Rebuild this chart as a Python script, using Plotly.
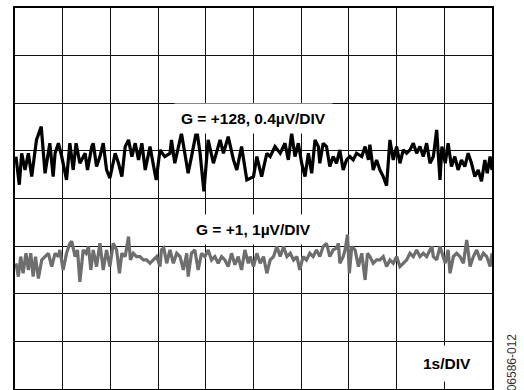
import plotly.graph_objects as go

# Time axis in seconds (1 s/DIV), values in screen divisions (0..8)
t_g128 = [0.02, 0.09, 0.14, 0.21, 0.28, 0.35, 0.45, 0.55, 0.63, 0.73, 0.80, 0.84, 0.91, 0.98,
          1.08, 1.15, 1.22, 1.28, 1.36, 1.47, 1.52, 1.61, 1.64, 1.71, 1.78, 1.85, 1.92, 1.99,
          2.10, 2.17, 2.24, 2.31, 2.38, 2.45, 2.52, 2.59, 2.66, 2.73, 2.83, 2.90, 2.96,
          3.04, 3.14, 3.25, 3.28, 3.35, 3.42, 3.49, 3.56, 3.63, 3.70, 3.77, 3.81, 3.88, 3.96,
          4.05, 4.16, 4.30, 4.37, 4.47, 4.58, 4.65, 4.75, 4.86,
          5.00, 5.07, 5.17, 5.28, 5.35, 5.45, 5.56, 5.66, 5.73, 5.80, 5.87, 5.94,
          6.01, 6.08, 6.15, 6.22, 6.29, 6.36, 6.39, 6.46, 6.53, 6.60, 6.67, 6.74, 6.81, 6.88, 6.95,
          7.02, 7.09, 7.16, 7.27, 7.34, 7.41, 7.44, 7.51, 7.58, 7.65, 7.72, 7.79, 7.86, 7.93,
          8.00, 8.07, 8.14, 8.21, 8.28, 8.35, 8.42, 8.49, 8.56, 8.63, 8.70, 8.77, 8.84, 8.91, 8.95,
          9.02, 9.08, 9.15, 9.22, 9.29, 9.36, 9.43, 9.50, 9.57, 9.64, 9.71, 9.78, 9.85, 9.90, 9.96, 10.0]
v_g128 = [4.88, 4.29, 4.95, 4.60, 4.95, 4.46, 5.23, 5.51, 4.53, 5.16, 4.46, 4.95, 5.16, 4.88,
          4.39, 5.16, 4.60, 5.16, 4.74, 4.95, 4.60, 5.09, 5.16, 4.67, 4.88, 5.16, 4.60, 4.43,
          4.95, 4.74, 4.46, 5.09, 5.23, 4.88, 5.16, 4.81, 5.16, 4.60, 5.09, 4.74, 4.39,
          5.02, 4.88, 4.95, 5.23, 4.74, 5.02, 5.37, 4.95, 4.53, 4.88, 5.30, 5.44, 4.95, 4.15,
          5.23, 4.74, 5.23, 4.95, 5.30, 4.81, 4.60, 5.09, 4.39,
          4.46, 4.88, 4.46, 4.95, 4.88, 5.09, 4.95, 5.16, 4.81, 5.37, 4.88, 5.16,
          4.74, 4.46, 4.95, 4.53, 5.23, 5.09, 4.74, 5.16, 5.09, 4.67, 4.88, 4.74, 5.02, 4.60, 4.81,
          4.88, 4.81, 4.95, 4.88, 5.09, 4.81, 5.13, 4.60, 4.81, 4.60, 4.46, 4.27, 5.23, 4.81,
          5.09, 4.74, 5.02, 4.95, 5.02, 5.16, 4.95, 5.09, 4.88, 5.16, 4.74, 4.88, 5.44, 4.39, 5.09,
          4.74, 5.16, 4.67, 4.88, 4.60, 4.81, 4.67, 4.95, 4.74, 4.46, 4.60, 4.36, 4.81, 4.53, 4.88, 4.60]

t_g1 = [0.02, 0.07, 0.12, 0.17, 0.23, 0.28, 0.33, 0.38, 0.43, 0.49, 0.56, 0.63, 0.70, 0.77, 0.84, 0.91, 0.94,
        1.01, 1.08, 1.15, 1.19, 1.26, 1.31, 1.36, 1.43, 1.49, 1.54, 1.59, 1.64, 1.71, 1.78, 1.85, 1.92, 1.99,
        2.06, 2.13, 2.19, 2.24, 2.31, 2.38, 2.42, 2.48, 2.55, 2.62, 2.69, 2.76, 2.83, 2.90, 2.97,
        3.04, 3.07, 3.12, 3.18, 3.25, 3.32, 3.39, 3.46, 3.53, 3.60, 3.63, 3.70, 3.77, 3.84, 3.91, 3.98,
        4.05, 4.12, 4.19, 4.26, 4.33, 4.40, 4.47, 4.54, 4.61, 4.68, 4.75, 4.82, 4.89,
        4.93, 5.00, 5.07, 5.14, 5.21, 5.28, 5.35, 5.42, 5.49, 5.56, 5.63, 5.70, 5.77, 5.84, 5.91, 5.97,
        6.04, 6.11, 6.18, 6.25, 6.32, 6.39, 6.46, 6.53, 6.60, 6.67, 6.74, 6.78, 6.81, 6.88, 6.92, 6.97,
        7.01, 7.06, 7.13, 7.20, 7.27, 7.34, 7.39, 7.44, 7.51, 7.58, 7.65, 7.72, 7.79, 7.86, 7.93,
        8.00, 8.07, 8.14, 8.21, 8.28, 8.35, 8.42, 8.49, 8.56, 8.63, 8.70, 8.74, 8.77, 8.84, 8.91, 8.95,
        9.02, 9.08, 9.12, 9.19, 9.26, 9.33, 9.40, 9.47, 9.54, 9.61, 9.68, 9.75, 9.82, 9.89, 9.96, 10.0]
v_g1 = [2.64, 2.36, 2.78, 2.43, 2.85, 2.50, 2.85, 2.36, 2.78, 2.32, 2.71, 2.78, 2.85, 2.57, 2.85, 2.78, 2.92,
        2.50, 2.85, 3.06, 3.10, 2.78, 2.92, 2.25, 2.92, 2.85, 2.99, 2.50, 2.92, 2.57, 3.06, 2.50, 2.92, 2.57,
        3.06, 2.92, 2.43, 2.85, 2.78, 3.20, 2.71, 2.85, 2.78, 2.78, 2.71, 2.71, 2.64, 2.71, 2.78,
        2.57, 2.92, 2.96, 2.64, 2.92, 2.64, 2.85, 2.78, 2.50, 2.85, 2.36, 2.85, 2.92, 2.50, 2.85, 2.78,
        2.92, 2.71, 2.78, 2.64, 2.78, 2.71, 2.57, 2.85, 2.61, 2.78, 2.50, 2.92, 2.64,
        2.78, 2.57, 2.85, 2.64, 2.78, 2.43, 2.71, 2.78, 2.99, 2.78, 2.99, 2.78, 2.85, 2.71, 2.78, 2.50,
        2.78, 2.71, 2.85, 2.78, 2.92, 2.78, 2.99, 3.06, 2.78, 2.92, 2.96, 3.06, 2.64, 2.78, 2.92, 3.24,
        2.43, 2.99, 2.92, 2.57, 2.85, 2.29, 2.85, 2.78, 2.64, 2.71, 2.71, 2.78, 2.57, 2.71, 2.64,
        2.78, 2.57, 2.64, 2.71, 2.85, 2.78, 2.92, 2.78, 2.85, 2.78, 2.92, 2.99, 2.78, 2.71, 2.99, 2.85,
        2.64, 2.92, 2.43, 2.78, 2.85, 2.78, 2.64, 3.13, 2.57, 2.78, 2.92, 2.71, 2.85, 2.78, 2.57, 2.85]

label_g128 = "G = +128, 0.4µV/DIV"
label_g1 = "G = +1, 1µV/DIV"
label_time = "1s/DIV"
figure_id = "06586-012"

FONT = "Arial, Liberation Sans, sans-serif"

fig = go.Figure()
fig.add_trace(go.Scatter(x=t_g128, y=v_g128, mode="lines",
                         line=dict(color="#000000", width=3.2), showlegend=False, hoverinfo="skip"))
fig.add_trace(go.Scatter(x=t_g1, y=v_g1, mode="lines",
                         line=dict(color="#6e6e6e", width=3.2), showlegend=False, hoverinfo="skip"))

fig.add_annotation(x=5, y=5.68, xref="x", yref="y", text="<b>" + label_g128 + "</b>",
                   showarrow=False, bgcolor="white", borderpad=6,
                   font=dict(family=FONT, size=15.5, color="black"))
fig.add_annotation(x=5, y=3.34, xref="x", yref="y", text="<b>" + label_g1 + "</b>",
                   showarrow=False, bgcolor="white", borderpad=6,
                   font=dict(family=FONT, size=15.5, color="black"))
fig.add_annotation(x=9.06, y=0.53, xref="x", yref="y", text="<b>" + label_time + "</b>",
                   showarrow=False, bgcolor="white", borderpad=9,
                   font=dict(family=FONT, size=15.5, color="black"))
fig.add_annotation(x=1.042, y=0.07, xref="paper", yref="paper", text=figure_id,
                   xanchor="center", yanchor="middle",
                   showarrow=False, textangle=-90,
                   font=dict(family=FONT, size=12, color="#333333"))

axis_common = dict(showgrid=True, gridcolor="#111111", gridwidth=1,
                   showline=True, linecolor="black", linewidth=2, mirror=True,
                   showticklabels=False, ticks="", zeroline=False, fixedrange=True)
fig.update_xaxes(range=[0, 10], dtick=1, **axis_common)
fig.update_yaxes(range=[0, 8], dtick=1, **axis_common)

fig.update_layout(width=524, height=390, autosize=False,
                  margin=dict(l=15, r=32, t=8, b=1, autoexpand=False),
                  paper_bgcolor="white", plot_bgcolor="white")

fig.write_html("out.html", config={"displayModeBar": False},
               post_script="document.body.style.margin='0';document.body.style.padding='0';")
